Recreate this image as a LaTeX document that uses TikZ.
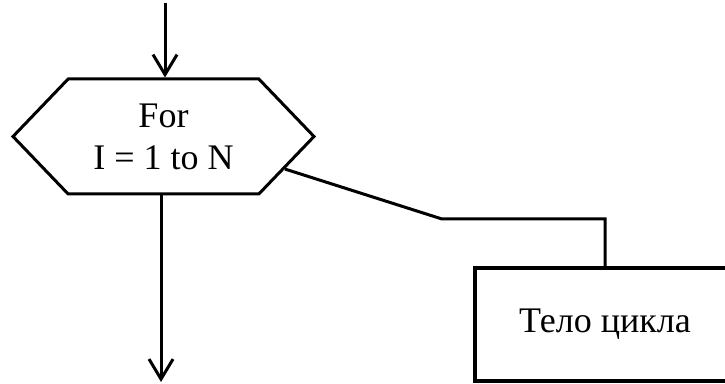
\documentclass[tikz,border=0pt]{standalone}
\usepackage{fontspec}
\setmainfont{Liberation Serif}
\usetikzlibrary{shapes.symbols,arrows.meta}

\begin{document}
\begin{tikzpicture}[x=1pt, y=1pt, line width=3pt,
  >={Straight Barb[length=20pt, width=24pt]},
  font=\fontsize{36}{42}\selectfont]

\useasboundingbox (0,0) rectangle (725,383);
\clip (0,0) rectangle (725,383);

\node[signal, signal to=west and east, signal pointer angle=92.4, draw, minimum width=301pt, minimum height=115pt, inner sep=0pt, align=center] (loop) at (163.5,246.5) {For\\I = 1 to N};
\node[rectangle, draw, minimum width=260pt, minimum height=113pt, line width=3.5pt] (body) at (605,58.5) {Тело цикла};

\coordinate (entry) at (165,380);
\coordinate (exit) at (161,1);

\draw[->] (entry) -- (entry |- loop.north);
\draw[->] (exit |- loop.south) -- (exit);
\draw (loop.-15) -- (442,164) -- (605,164) -- (body.north);

\end{tikzpicture}
\end{document}
